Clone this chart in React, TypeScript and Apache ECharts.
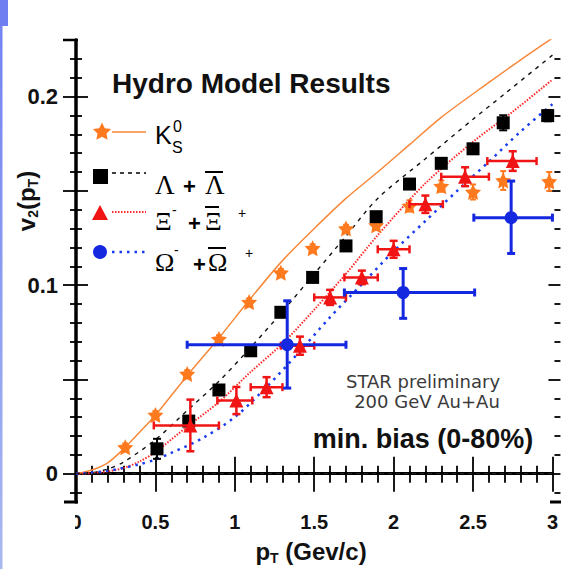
import React, { useEffect, useRef } from "react";
import * as echarts from "echarts";

// ---------- data ----------
const X_MIN = 0;
const X_MAX = 3;
const Y_MIN = -0.015;
const Y_MAX = 0.23;

const xTickLabels = [0, 0.5, 1, 1.5, 2, 2.5, 3];
const yTickLabels = [0, 0.1, 0.2];
const yMajorTicks = [0, 0.05, 0.1, 0.15, 0.2];
const yMinorTicks = [-0.01, 0.01, 0.02, 0.03, 0.04, 0.06, 0.07, 0.08, 0.09, 0.11, 0.12, 0.13, 0.14, 0.16, 0.17, 0.18, 0.19, 0.21, 0.22];

// K0S data (stars)
const kX = [0.31, 0.5, 0.7, 0.9, 1.09, 1.29, 1.49, 1.7, 1.89, 2.1, 2.3, 2.5, 2.69, 2.98];
const kV = [0.014, 0.0312, 0.0529, 0.0714, 0.091, 0.1066, 0.1196, 0.13, 0.1317, 0.142, 0.1525, 0.1494, 0.1555, 0.155];
const kErr = [0.002, 0.002, 0.002, 0.002, 0.002, 0.002, 0.002, 0.002, 0.002, 0.003, 0.003, 0.004, 0.005, 0.005];

// Lambda data (squares)
const lamX = [0.51, 0.71, 0.9, 1.1, 1.29, 1.49, 1.7, 1.89, 2.1, 2.3, 2.5, 2.69, 2.97];
const lamV = [0.0132, 0.0279, 0.0444, 0.0652, 0.0856, 0.1041, 0.1208, 0.1363, 0.1536, 0.1646, 0.1723, 0.1861, 0.1899];
const lamErr = [0.0053, 0.0015, 0.0012, 0.001, 0.001, 0.001, 0.001, 0.001, 0.001, 0.0015, 0.0015, 0.004, 0.003];

// Xi data (triangles)
const xiX = [0.72, 1.01, 1.2, 1.41, 1.6, 1.8, 2.0, 2.2, 2.45, 2.75];
const xiV = [0.0256, 0.0388, 0.0459, 0.0679, 0.0935, 0.1041, 0.119, 0.1429, 0.1575, 0.1658];
const xiXLo = [0.49, 0.89, 1.1, 1.29, 1.5, 1.69, 1.9, 2.1, 2.3, 2.59];
const xiXHi = [0.9, 1.11, 1.3, 1.5, 1.7, 1.9, 2.1, 2.31, 2.6, 2.9];
const xiVErr = [0.0137, 0.0072, 0.0053, 0.0048, 0.004, 0.0036, 0.0045, 0.0046, 0.005, 0.0052];

// Omega data (circles)
const omX = [1.33, 2.06, 2.74];
const omV = [0.0684, 0.0961, 0.1358];
const omXLo = [0.7, 1.69, 2.505];
const omXHi = [1.7, 2.51, 3.0];
const omVLo = [0.0454, 0.0824, 0.1168];
const omVHi = [0.0917, 0.1088, 0.1552];

// Hydro curves
const kCurveX = [0, 0.1, 0.2, 0.3, 0.4, 0.5, 0.7, 0.9, 1.1, 1.3, 1.5, 1.7, 1.9, 2.1, 2.3, 2.6, 2.8, 3.0];
const kCurveV = [0, 0.002, 0.0058, 0.0132, 0.022, 0.031, 0.052, 0.072, 0.093, 0.113, 0.13, 0.146, 0.16, 0.1745, 0.189, 0.2075, 0.2195, 0.231];
const lamCurveX = [0, 0.1, 0.2, 0.3, 0.5, 0.7, 0.9, 1.1, 1.3, 1.5, 1.7, 1.9, 2.2, 2.5, 2.7, 3.0];
const lamCurveV = [0, 0.0005, 0.0025, 0.0062, 0.018, 0.0335, 0.049, 0.067, 0.086, 0.106, 0.126, 0.146, 0.167, 0.188, 0.2015, 0.222];
const xiCurveX = [0, 0.1, 0.2, 0.3, 0.4, 0.5, 0.7, 0.9, 1.1, 1.3, 1.5, 1.7, 1.9, 2.2, 2.5, 2.75, 3.0];
const xiCurveV = [0, 0.0003, 0.0012, 0.003, 0.0065, 0.0115, 0.025, 0.038, 0.054, 0.069, 0.087, 0.106, 0.1265, 0.154, 0.176, 0.192, 0.209];
const omCurveX = [0, 0.2, 0.4, 0.5, 0.6, 0.8, 1.0, 1.2, 1.4, 1.6, 1.8, 2.0, 2.2, 2.4, 2.6, 2.8, 3.0];
const omCurveV = [0, 0.0015, 0.005, 0.0075, 0.011, 0.019, 0.03, 0.046, 0.064, 0.083, 0.1005, 0.118, 0.134, 0.15, 0.1655, 0.1815, 0.196];

// ---------- styling ----------
const ORANGE = "#ff7a1f";
const ORANGE_LINE = "#f7883a";
const RED = "#f01414";
const RED_LINE = "#ff2a2a";
const BLUE = "#1428e0";
const BLUE_LINE = "#1a3cf0";
const SANS = "'Liberation Sans', Arial, sans-serif";
const SERIF = "'Liberation Serif', 'Times New Roman', serif";

const STAR_PATH = "path://M0,-10L2.94,-4.05L9.51,-3.09L4.76,1.55L5.88,8.09L0,5L-5.88,8.09L-4.76,1.55L-9.51,-3.09L-2.94,-4.05Z";
const STAR_PTS = [[0, -10], [2.94, -4.05], [9.51, -3.09], [4.76, 1.55], [5.88, 8.09], [0, 5], [-5.88, 8.09], [-4.76, 1.55], [-9.51, -3.09], [-2.94, -4.05]];

const zip = (xs: number[], ys: number[]) => xs.map((x, i) => [x, ys[i]]);

function errRender(color: string, w: number, cap: number) {
  return (_params: any, api: any) => {
    const x = api.value(0), y = api.value(1);
    const x0 = api.value(2), x1 = api.value(3), y0 = api.value(4), y1 = api.value(5);
    const c = api.coord([x, y]);
    const pxl = api.coord([x0, y]);
    const pxh = api.coord([x1, y]);
    const pyl = api.coord([x, y0]);
    const pyh = api.coord([x, y1]);
    const style = { stroke: color, lineWidth: w, fill: null };
    const children: any[] = [];
    if (x1 > x0) {
      children.push({ type: "line", shape: { x1: pxl[0], y1: c[1], x2: pxh[0], y2: c[1] }, style });
      children.push({ type: "line", shape: { x1: pxl[0], y1: c[1] - cap, x2: pxl[0], y2: c[1] + cap }, style });
      children.push({ type: "line", shape: { x1: pxh[0], y1: c[1] - cap, x2: pxh[0], y2: c[1] + cap }, style });
    }
    if (y1 > y0) {
      children.push({ type: "line", shape: { x1: c[0], y1: pyl[1], x2: c[0], y2: pyh[1] }, style });
      children.push({ type: "line", shape: { x1: c[0] - cap, y1: pyl[1], x2: c[0] + cap, y2: pyl[1] }, style });
      children.push({ type: "line", shape: { x1: c[0] - cap, y1: pyh[1], x2: c[0] + cap, y2: pyh[1] }, style });
    }
    return { type: "group", children };
  };
}

function buildOption() {
  const yBase = {
    type: "value",
    min: Y_MIN,
    max: Y_MAX,
    splitLine: { show: false },
    axisLine: { show: false },
    axisLabel: { show: false },
  };
  const tickStyle = { color: "#000", width: 1.8 };

  const starErr = kX.map((x, i) => [x, kV[i], x, x, kV[i] - kErr[i], kV[i] + kErr[i]]);
  const lamErrData = lamX.map((x, i) => [x, lamV[i], x, x, lamV[i] - lamErr[i], lamV[i] + lamErr[i]]);
  const xiErrData = xiX.map((x, i) => [x, xiV[i], xiXLo[i], xiXHi[i], xiV[i] - xiVErr[i], xiV[i] + xiVErr[i]]);
  const omErrData = omX.map((x, i) => [x, omV[i], omXLo[i], omXHi[i], omVLo[i], omVHi[i]]);

  const legendLines = (y: number, color: string, type: any, w: number) => ({
    type: "line",
    shape: { x1: 112, y1: y, x2: 146, y2: y },
    style: { stroke: color, lineWidth: w, lineDash: type },
  });

  const txt = (x: number, y: number, text: string, size: number, family: string, weight: any = "normal", color = "#000", align = "left") => ({
    type: "text",
    x,
    y,
    z: 50,
    style: { text, fontSize: size, fontFamily: family, fontWeight: weight, fill: color, align, verticalAlign: "middle" },
  });

  const overline = (x1: number, x2: number, y: number) => ({
    type: "line",
    z: 50,
    shape: { x1, y1: y, x2, y2: y },
    style: { stroke: "#000", lineWidth: 2 },
  });

  return {
    animation: false,
    backgroundColor: "#fff",
    textStyle: { fontFamily: SANS },
    grid: { left: 76, top: 40, width: 477, height: 462, containLabel: false },
    xAxis: [
      {
        type: "value",
        position: "bottom",
        min: X_MIN,
        max: X_MAX,
        interval: 0.5,
        splitLine: { show: false },
        axisLine: { show: true, lineStyle: { color: "#000", width: 3 } },
        axisTick: { show: true, inside: true, length: 17, lineStyle: tickStyle },
        minorTick: { show: true, splitNumber: 5, length: 8, lineStyle: tickStyle },
        axisLabel: {
          show: true,
          margin: 10,
          fontSize: 20,
          fontWeight: "bold",
          color: "#111",
          fontFamily: SANS,
          customValues: xTickLabels,
          formatter: (v: number) => String(v),
        },
      },
      {
        type: "value",
        position: "top",
        min: X_MIN,
        max: X_MAX,
        interval: 0.5,
        splitLine: { show: false },
        axisLine: { show: true, lineStyle: { color: "#000", width: 2.5 } },
        axisTick: { show: true, inside: true, length: 18, lineStyle: tickStyle },
        minorTick: { show: true, splitNumber: 5, length: 9, lineStyle: tickStyle },
        axisLabel: { show: false },
      },
    ],
    yAxis: [
      {
        ...yBase,
        position: "left",
        axisLine: { show: true, lineStyle: { color: "#000", width: 3.5 } },
        axisTick: { show: true, inside: true, length: 12, customValues: yMajorTicks, lineStyle: tickStyle },
        axisLabel: {
          show: true,
          margin: 18,
          fontSize: 22,
          fontWeight: "bold",
          color: "#111",
          fontFamily: SANS,
          customValues: yTickLabels,
          formatter: (v: number) => (v === 0 ? "0" : v.toFixed(1)),
        },
      },
      { ...yBase, position: "left", axisTick: { show: true, inside: false, length: 13, customValues: yMajorTicks, lineStyle: tickStyle } },
      { ...yBase, position: "left", axisTick: { show: true, inside: true, length: 6, customValues: yMinorTicks, lineStyle: tickStyle } },
      { ...yBase, position: "left", axisTick: { show: true, inside: false, length: 6, customValues: yMinorTicks, lineStyle: tickStyle } },
      { ...yBase, position: "right", offset: 8, axisTick: { show: true, inside: true, length: 12, customValues: yMajorTicks, lineStyle: tickStyle } },
      { ...yBase, position: "right", offset: 8, axisTick: { show: true, inside: true, length: 6, customValues: yMinorTicks, lineStyle: tickStyle } },
    ],
    graphic: [
      // slide decoration on the left edge
      { type: "rect", shape: { x: 0, y: 0, width: 8, height: 26 }, style: { fill: "#6f7ff2" }, z: 60 },
      {
        type: "rect",
        shape: { x: 0, y: 26, width: 2.5, height: 543 },
        style: {
          fill: new echarts.graphic.LinearGradient(0, 0, 0, 1, [
            { offset: 0, color: "#7383f2" },
            { offset: 1, color: "#a9b9f0" },
          ]),
        },
        z: 60,
      },
      // axis-line extensions
      { type: "line", shape: { x1: 63, y1: 40, x2: 78, y2: 40 }, style: { stroke: "#000", lineWidth: 2.5 }, z: 40 },
      { type: "line", shape: { x1: 64, y1: 502, x2: 78, y2: 502 }, style: { stroke: "#000", lineWidth: 3 }, z: 40 },
      { type: "line", shape: { x1: 550, y1: 502, x2: 561, y2: 502 }, style: { stroke: "#000", lineWidth: 3 }, z: 40 },
      // partly hidden "0" on x axis
      { type: "rect", shape: { x: 66, y: 508, width: 9, height: 24 }, style: { fill: "#fff" }, z: 60 },
      // axis titles
      {
        type: "text",
        x: 26,
        y: 201,
        rotation: Math.PI / 2,
        z: 50,
        style: {
          text: "{a|v}{b|2}{a|(p}{b|T}{a|)}",
          align: "center",
          verticalAlign: "middle",
          fill: "#111",
          rich: {
            a: { fontSize: 24, fontWeight: "bold", fontFamily: SANS, lineHeight: 28, fill: "#111" },
            b: { fontSize: 14, fontWeight: "bold", fontFamily: SANS, lineHeight: 14, verticalAlign: "bottom", fill: "#111" },
          },
        },
      },
      {
        type: "text",
        x: 311,
        y: 551,
        z: 50,
        style: {
          text: "{a|p}{b|T}{a| (Gev/c)}",
          align: "center",
          verticalAlign: "middle",
          fill: "#111",
          rich: {
            a: { fontSize: 24, fontWeight: "bold", fontFamily: SANS, lineHeight: 28, fill: "#111" },
            b: { fontSize: 14, fontWeight: "bold", fontFamily: SANS, lineHeight: 14, verticalAlign: "bottom", fill: "#111" },
          },
        },
      },
      // title
      txt(112, 83, "Hydro Model Results", 28, SANS, "bold", "#111"),
      // legend: K0S
      {
        type: "polygon",
        z: 50,
        shape: { points: STAR_PTS.map((p) => [102 + p[0] * 0.95, 132 + p[1] * 0.95]) },
        style: { fill: ORANGE },
      },
      { ...legendLines(132, ORANGE_LINE, null, 1.5), z: 50 },
      txt(155, 135, "K", 25, SANS),
      txt(173, 126, "0", 16, SANS),
      txt(172, 147, "S", 16, SANS),
      // legend: Lambda
      { type: "rect", z: 50, shape: { x: 93, y: 169, width: 15, height: 15 }, style: { fill: "#000" } },
      { ...legendLines(173, "#000", [4, 4], 1.4), z: 50 },
      txt(155, 185, "Λ", 27, SERIF),
      txt(183, 186, "+", 22, SANS, "bold"),
      txt(205, 185, "Λ", 27, SERIF),
      overline(205, 223, 172),
      // legend: Xi
      { type: "polygon", z: 50, shape: { points: [[100, 205], [108, 220], [92, 220]] }, style: { fill: RED } },
      { ...legendLines(212, RED_LINE, [1.5, 1.5], 2), z: 50 },
      txt(155, 221, "Ξ", 26, SERIF),
      txt(172, 210, "-", 14, SANS),
      txt(188, 223, "+", 22, SANS, "bold"),
      txt(205, 221, "Ξ", 26, SERIF),
      overline(205, 219, 207),
      txt(238, 213, "+", 14, SANS),
      // legend: Omega
      { type: "circle", z: 50, shape: { cx: 100, cy: 252, r: 7 }, style: { fill: BLUE } },
      { ...legendLines(252, BLUE_LINE, [2.5, 5], 2.5), z: 50 },
      txt(155, 262, "Ω", 26, SERIF),
      txt(174, 250, "-", 14, SANS),
      txt(193, 264, "+", 22, SANS, "bold"),
      txt(208, 262, "Ω", 26, SERIF),
      overline(208, 226, 248),
      txt(245, 253, "+", 14, SANS),
      // annotations
      txt(423, 381, "STAR preliminary", 18, "'DejaVu Sans', Verdana, sans-serif", "normal", "#3a3a3a", "center"),
      txt(427, 401, "200 GeV Au+Au", 18, "'DejaVu Sans', Verdana, sans-serif", "normal", "#3a3a3a", "center"),
      txt(423, 439, "min. bias (0-80%)", 27, SANS, "bold", "#111", "center"),
    ],
    series: [
      {
        type: "line",
        data: zip(kCurveX, kCurveV),
        smooth: 0.3,
        showSymbol: false,
        symbol: "none",
        lineStyle: { color: ORANGE_LINE, width: 1.5 },
        z: 2,
        markLine: {
          silent: true,
          symbol: "none",
          label: { show: false },
          lineStyle: { color: "#222", width: 1, type: [4, 4] },
          data: [{ yAxis: 0 }],
        },
      },
      { type: "line", data: zip(lamCurveX, lamCurveV), smooth: 0.3, showSymbol: false, symbol: "none", lineStyle: { color: "#111", width: 1.4, type: [4, 5] }, z: 2 },
      { type: "line", data: zip(xiCurveX, xiCurveV), smooth: 0.3, showSymbol: false, symbol: "none", lineStyle: { color: RED_LINE, width: 2, type: [1.5, 1.5] }, z: 2 },
      { type: "line", data: zip(omCurveX, omCurveV), smooth: 0.3, showSymbol: false, symbol: "none", lineStyle: { color: BLUE_LINE, width: 2.5, type: [2.5, 5] }, z: 2 },
      { type: "custom", data: starErr, encode: { x: 0, y: 1 }, renderItem: errRender(ORANGE, 2, 3), z: 3 },
      { type: "scatter", data: zip(kX, kV), symbol: STAR_PATH, symbolSize: 16, itemStyle: { color: ORANGE, opacity: 1 }, z: 4 },
      { type: "custom", data: lamErrData, encode: { x: 0, y: 1 }, renderItem: errRender("#000", 2, 4), z: 3 },
      { type: "scatter", data: zip(lamX, lamV), symbol: "rect", symbolSize: 13, itemStyle: { color: "#000", opacity: 1 }, z: 4 },
      { type: "custom", data: xiErrData, encode: { x: 0, y: 1 }, renderItem: errRender(RED, 2.5, 4), z: 5 },
      { type: "scatter", data: zip(xiX, xiV), symbol: "triangle", symbolSize: 14, itemStyle: { color: RED, opacity: 1 }, z: 6 },
      { type: "custom", data: omErrData, encode: { x: 0, y: 1 }, renderItem: errRender(BLUE, 3, 4), z: 5 },
      { type: "scatter", data: zip(omX, omV), symbol: "circle", symbolSize: 13, itemStyle: { color: BLUE, opacity: 1 }, z: 6 },
    ],
  };
}

export default function App() {
  const ref = useRef<HTMLDivElement>(null);
  useEffect(() => {
    if (!ref.current) return;
    const chart = echarts.init(ref.current, undefined, { renderer: "svg" });
    chart.setOption(buildOption() as any);
    return () => chart.dispose();
  }, []);
  return <div ref={ref} style={{ position: "fixed", left: 0, top: 0, width: 561, height: 569, background: "#fff" }} />;
}
